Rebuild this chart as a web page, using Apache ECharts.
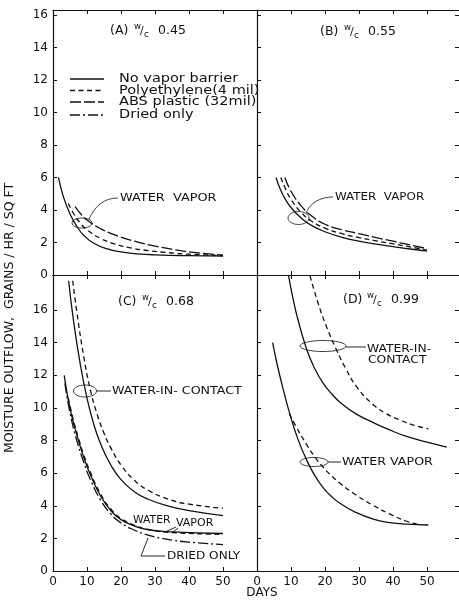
<!DOCTYPE html>
<html><head><meta charset="utf-8">
<script src="https://cdn.jsdelivr.net/npm/echarts@6/dist/echarts.min.js"></script>
<style>html,body{margin:0;padding:0;background:#fff}#c{width:459px;height:601px}</style>
</head><body><div id="c"></div>
<script>
// ---- tick labels ----
const xTicks = [0, 10, 20, 30, 40, 50];
const yTicks = [0, 2, 4, 6, 8, 10, 12, 14, 16];

// ---- Panel A  (w/c 0.45) : water vapor ----
const A_noBarrier = [[1.6,6.0],[3,4.85],[5,3.75],[7,3.0],[9,2.45],[12,1.95],[16,1.6],[20,1.42],[25,1.3],[30,1.24],[40,1.19],[50,1.17]];
const A_poly = [[4.5,4.4],[6,3.8],[8,3.2],[10,2.78],[14,2.25],[18,1.92],[22,1.7],[28,1.5],[34,1.37],[40,1.28],[50,1.2]];
const A_abs = [[6.5,4.2],[8,3.8],[10,3.38],[14,2.85],[18,2.48],[24,2.08],[30,1.78],[36,1.55],[42,1.38],[50,1.22]];

// ---- Panel B  (w/c 0.55) : water vapor ----
const B_noBarrier = [[5.6,6.0],[7,5.2],[8.5,4.6],[10,4.15],[13,3.5],[16,3.05],[20,2.66],[25,2.32],[30,2.08],[35,1.9],[40,1.75],[45,1.6],[50,1.47]];
const B_poly = [[7,6.0],[8.5,5.25],[10,4.65],[13,3.85],[16,3.32],[20,2.88],[25,2.54],[30,2.3],[35,2.1],[40,1.92],[45,1.73],[50,1.53]];
const B_abs = [[8.2,6.0],[10,5.15],[13,4.25],[16,3.65],[20,3.12],[25,2.78],[30,2.54],[35,2.3],[40,2.08],[45,1.85],[50,1.62]];

// ---- Panel C  (w/c 0.68) ----
const C_contactNoBarrier = [[4.6,17.8],[6,15.4],[8,12.7],[10,10.6],[12,9.0],[14,7.8],[17,6.5],[20,5.6],[24,4.85],[28,4.4],[34,3.98],[40,3.7],[50,3.4]];
const C_contactPoly = [[5.8,17.8],[7,15.9],[9,13.2],[11,11.1],[13,9.6],[15,8.45],[17,7.55],[20,6.5],[24,5.55],[28,4.95],[34,4.4],[40,4.1],[50,3.85]];
const C_vaporNoBarrier = [[3.3,12.0],[4.5,10.5],[6,9.1],[7.5,8.0],[9,7.0],[11,5.9],[14,4.6],[17,3.7],[20,3.15],[24,2.75],[28,2.53],[35,2.4],[50,2.3]];
const C_vaporPoly = [[4.5,10.6],[6,9.25],[7.5,8.15],[9,7.15],[11,6.05],[14,4.72],[17,3.8],[20,3.22],[24,2.8],[28,2.55],[35,2.36],[50,2.25]];
const C_dried = [[3.5,11.5],[5,9.7],[7,8.0],[9,6.7],[11,5.6],[14,4.35],[17,3.5],[20,2.95],[24,2.5],[28,2.2],[34,1.93],[40,1.77],[50,1.62]];

// ---- Panel D  (w/c 0.99) ----
const D_contactNoBarrier = [[9.3,18.1],[10.5,16.8],[12,15.45],[14.6,13.6],[17,12.4],[19.5,11.5],[22,10.85],[24.4,10.35],[29,9.65],[34.2,9.1],[39,8.65],[44,8.25],[50,7.9],[55.8,7.6]];
const D_contactPoly = [[15.6,18.1],[18,16.4],[20.5,14.95],[23.4,13.55],[26,12.45],[29.3,11.3],[34.2,10.2],[38,9.65],[42.1,9.25],[46,8.95],[50.4,8.72]];
const D_vaporNoBarrier = [[4.6,14.0],[6,12.6],[8,10.9],[9.7,9.6],[12,8.1],[14.6,6.8],[17,5.85],[19.5,5.1],[22,4.55],[24.4,4.15],[29,3.6],[34.2,3.18],[39,2.97],[44,2.87],[50.4,2.82]];
const D_vaporPoly = [[9.5,9.65],[11.5,8.85],[14.6,7.75],[17,7.0],[19.5,6.35],[22,5.82],[24.4,5.38],[29,4.68],[34.2,4.02],[39,3.5],[44,3.05],[47.5,2.85]];

const INK = '#111';
const FONT = 'DejaVu Sans';
const STYLES = {
  solid: 'solid',
  poly: [5, 3.5],
  abs: [11, 3],
  dried: [10, 3, 2, 3]
};

const grids = [
  {left: 53, top: 10, width: 204, height: 265},
  {left: 257, top: 10, width: 202, height: 265},
  {left: 53, top: 275, width: 204, height: 296},
  {left: 257, top: 275, width: 202, height: 296}
];
const xMax = [60, 59.4, 60, 59.4];
const yMax = [16.3, 16.3, 18.15, 18.15];

function xAx(gi, pos, showLabel) {
  return {
    type: 'value', gridIndex: gi, position: pos, min: 0, max: xMax[gi],
    axisLine: {show: true, onZero: false, lineStyle: {color: INK, width: 1.2}},
    axisTick: {show: true, inside: true, length: 4, customValues: xTicks, lineStyle: {color: INK, width: 1}},
    axisLabel: {show: showLabel, customValues: xTicks, color: INK, fontFamily: FONT, fontSize: 12, margin: 5},
    splitLine: {show: false}
  };
}
function yAx(gi, pos, showLabel, showLine) {
  return {
    type: 'value', gridIndex: gi, position: pos, min: 0, max: yMax[gi],
    axisLine: {show: showLine, onZero: false, lineStyle: {color: INK, width: 1.2}},
    axisTick: {show: true, inside: true, length: 4, customValues: yTicks, lineStyle: {color: INK, width: 1}},
    axisLabel: {show: showLabel, customValues: yTicks, color: INK, fontFamily: FONT, fontSize: 12, margin: 5},
    splitLine: {show: false}
  };
}

const xAxes = [
  xAx(0, 'bottom', false), xAx(0, 'top', false),
  xAx(1, 'bottom', false), xAx(1, 'top', false),
  xAx(2, 'bottom', true), xAx(2, 'top', false),
  xAx(3, 'bottom', true), xAx(3, 'top', false)
];
const yAxes = [
  yAx(0, 'left', true, true),
  yAx(1, 'left', false, true), yAx(1, 'right', false, false),
  yAx(2, 'left', true, true),
  yAx(3, 'left', false, true), yAx(3, 'right', false, false)
];

function line(name, data, xi, yi, style) {
  return {
    name, type: 'line', data, xAxisIndex: xi, yAxisIndex: yi,
    showSymbol: false, symbol: 'none', smooth: 0.5,
    lineStyle: {color: INK, width: 1.3, type: STYLES[style]},
    silent: true
  };
}

const series = [
  line('No vapor barrier', A_noBarrier, 0, 0, 'solid'),
  line('Polyethylene (4 mil)', A_poly, 0, 0, 'poly'),
  line('ABS plastic (32 mil)', A_abs, 0, 0, 'abs'),
  line('No vapor barrier', B_noBarrier, 2, 1, 'solid'),
  line('Polyethylene (4 mil)', B_poly, 2, 1, 'poly'),
  line('ABS plastic (32 mil)', B_abs, 2, 1, 'abs'),
  line('No vapor barrier', C_contactNoBarrier, 4, 3, 'solid'),
  line('Polyethylene (4 mil)', C_contactPoly, 4, 3, 'poly'),
  line('No vapor barrier', C_vaporNoBarrier, 4, 3, 'solid'),
  line('Polyethylene (4 mil)', C_vaporPoly, 4, 3, 'poly'),
  line('Dried only', C_dried, 4, 3, 'dried'),
  line('No vapor barrier', D_contactNoBarrier, 6, 4, 'solid'),
  line('Polyethylene (4 mil)', D_contactPoly, 6, 4, 'poly'),
  line('No vapor barrier', D_vaporNoBarrier, 6, 4, 'solid'),
  line('Polyethylene (4 mil)', D_vaporPoly, 6, 4, 'poly')
];

function txt(x, y, text, size, sx) {
  return {type: 'text', x, y, silent: true, scaleX: sx || 1,
    style: {text, fill: INK, fontFamily: FONT, fontSize: size, verticalAlign: 'middle', align: 'left'}};
}
function title(x, y, letter, val) {
  return [
    txt(x, y, '(' + letter + ')', 12.5),
    txt(x + 24, y - 4, 'w', 8.5),
    txt(x + 30, y, '/', 11),
    txt(x + 34, y + 4, 'c', 9),
    txt(x + 48, y, val, 12.5)
  ];
}
function ell(cx, cy, rx, ry) {
  return {type: 'ellipse', silent: true, shape: {cx, cy, rx, ry}, style: {fill: 'none', stroke: INK, lineWidth: 0.8}};
}
function pl(points, w) {
  return {type: 'polyline', silent: true, shape: {points}, style: {fill: 'none', stroke: INK, lineWidth: w || 0.9}};
}
function bez(x1, y1, cx1, cy1, cx2, cy2, x2, y2) {
  return {type: 'bezierCurve', silent: true, shape: {x1, y1, cpx1: cx1, cpy1: cy1, cpx2: cx2, cpy2: cy2, x2, y2},
    style: {fill: 'none', stroke: INK, lineWidth: 0.8}};
}
function legendRow(y, label, style) {
  return [
    {type: 'line', silent: true, shape: {x1: 70, y1: y, x2: 104, y2: y},
      style: {stroke: INK, lineWidth: 1.3, lineDash: style === 'solid' ? null : STYLES[style]}},
    txt(119, y, label, 12.5, 1.16)
  ];
}

const graphic = [].concat(
  title(110, 31, 'A', '0.45'),
  title(320, 32, 'B', '0.55'),
  title(118, 302, 'C', '0.68'),
  title(343, 300, 'D', '0.99'),
  legendRow(79, 'No vapor barrier', 'solid'),
  legendRow(90.5, 'Polyethylene(4 mil)', 'poly'),
  legendRow(102, 'ABS plastic (32mil)', 'abs'),
  legendRow(115, 'Dried only', 'dried'),
  [
    // A annotation
    txt(120, 198, 'WATER  VAPOR', 11, 1.17),
    ell(82, 223, 10, 5),
    bez(89, 219, 95, 206, 104, 198, 118, 198),
    // B annotation
    txt(335, 197, 'WATER  VAPOR', 11, 1.08),
    ell(298.5, 218, 10.5, 6.5),
    bez(306, 213, 310, 203, 320, 197, 333, 197),
    // C annotations
    ell(85, 391, 11.5, 6),
    pl([[96.5, 391], [111, 391]]),
    txt(112, 391, 'WATER-IN- CONTACT', 11, 1.15),
    txt(133, 520, 'WATER', 11, 0.98),
    txt(176, 523, 'VAPOR', 11, 1.0),
    pl([[176, 527], [165, 532]]),
    pl([[178, 528], [172, 533]]),
    txt(167, 556, 'DRIED ONLY', 11, 1.1),
    pl([[165, 556], [141, 556], [148, 538]]),
    // D annotations
    ell(323, 346, 23, 5.5),
    pl([[346, 347], [366, 347]]),
    txt(367, 349, 'WATER-IN-', 11, 1.12),
    txt(368, 360, 'CONTACT', 11, 1.12),
    ell(314, 462, 14, 4.5),
    pl([[328, 462], [341, 462]]),
    txt(342, 462.5, 'WATER VAPOR', 11, 1.15),
    // axis titles
    {type: 'text', x: 10, y: 318, rotation: Math.PI / 2, silent: true,
      style: {text: 'MOISTURE OUTFLOW,  GRAINS / HR / SQ FT', fill: INK, fontFamily: FONT, fontSize: 12.5, align: 'center', verticalAlign: 'middle'}},
    {type: 'text', x: 262, y: 593, silent: true,
      style: {text: 'DAYS', fill: INK, fontFamily: FONT, fontSize: 12, align: 'center', verticalAlign: 'middle'}}
  ]
);

const chart = echarts.init(document.getElementById('c'), null, {renderer: 'canvas'});
chart.setOption({
  animation: false,
  backgroundColor: '#fff',
  grid: grids,
  xAxis: xAxes,
  yAxis: yAxes,
  series,
  graphic
});
</script>
</body></html>
